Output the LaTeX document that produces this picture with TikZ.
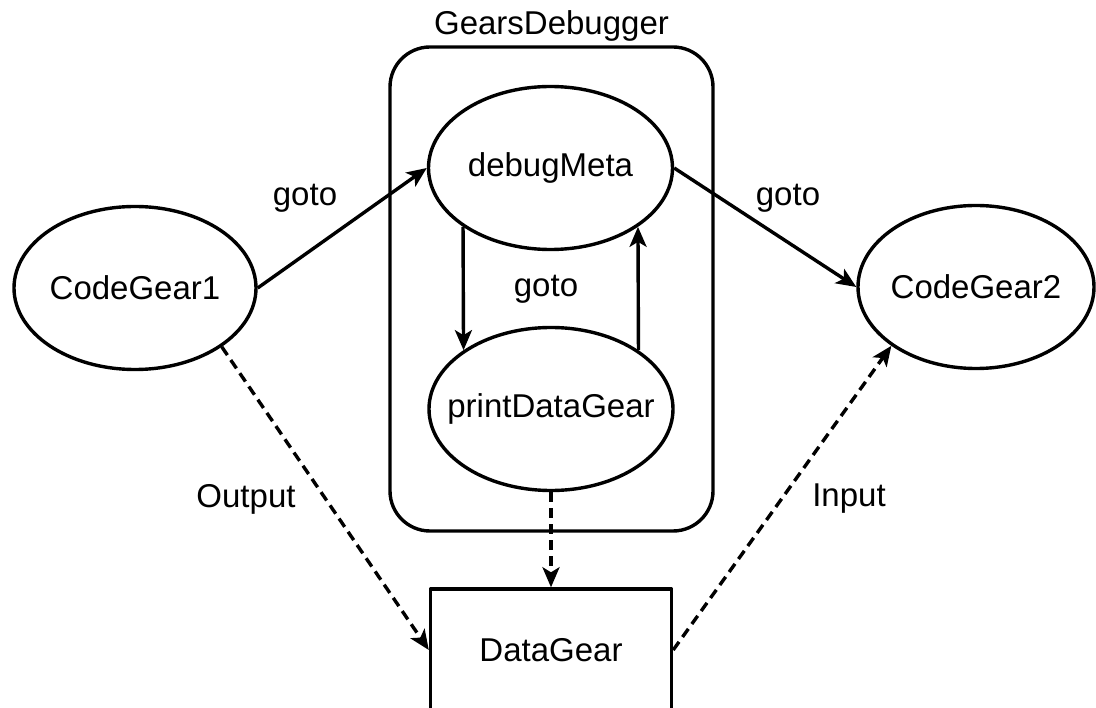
\documentclass[tikz,border=0pt]{standalone}
\usepackage{fontspec}
\setmainfont{Liberation Sans}
\usetikzlibrary{shapes.geometric,arrows.meta}
\newcommand\gearfont{\fontsize{33}{40}\selectfont}
\newcommand\gearname[1]{\makebox[0pt]{#1}}
\tikzset{
	gear/.style={draw,ellipse,inner sep=0pt,minimum width=242pt,minimum height=163pt},
	datanode/.style={draw,rectangle,inner sep=0pt,minimum width=241pt,minimum height=122pt},
	flow/.style={dash pattern=on 10pt off 6pt}
}
\begin{document}
\begin{tikzpicture}[x=1pt,y=-1pt,>={Stealth[length=20pt,width=17pt,inset=5pt]},line join=round,font=\gearfont,line width=3.4pt]
	\useasboundingbox (0,0) rectangle (1096,708);
	\clip (0,0) rectangle (1096,708);
	% container
	\node[draw,rounded corners=40pt,minimum width=323pt,minimum height=484pt,inner sep=0pt] (debugger) at (551.5,289) {};
	\node[above,inner sep=2pt] (debuggerlabel) at (debugger.north) {GearsDebugger};
	% gears
	\node[gear] (gear1) at (135,288) {\gearname{CodeGear1}};
	\node[gear,minimum width=236pt] (gear2) at (976,287) {\gearname{CodeGear2}};
	\node[gear,minimum width=244pt] (debugmeta) at (550.5,168) {\gearname{debugMeta}};
	\node[gear,minimum width=244pt] (printdata) at (551,409) {\gearname{printDataGear}};
	\node[datanode] (datagear) at (551,650) {DataGear};
	% goto
	\draw[->] (gear1.east) -- (debugmeta.west);
	\draw[->] (debugmeta.east) -- (gear2.west);
	\draw[->] (debugmeta.south west) -- (printdata.north west);
	\draw[->] (printdata.north east) -- (debugmeta.south east);
	% data flow
	\draw[->,flow] (gear1.south east) -- (datagear.west);
	\draw[->,flow] (printdata.south) -- (datagear.north);
	\draw[->,flow] (datagear.east) -- (gear2.south west);
	% labels
	\node (gotoleft) at (305,198) {goto};
	\node (gotoright) at (788,198) {goto};
	\node (gotomid) at (546,289) {goto};
	\node (outputlabel) at (246,499) {Output};
	\node (inputlabel) at (849,499) {Input};
\end{tikzpicture}
\end{document}
